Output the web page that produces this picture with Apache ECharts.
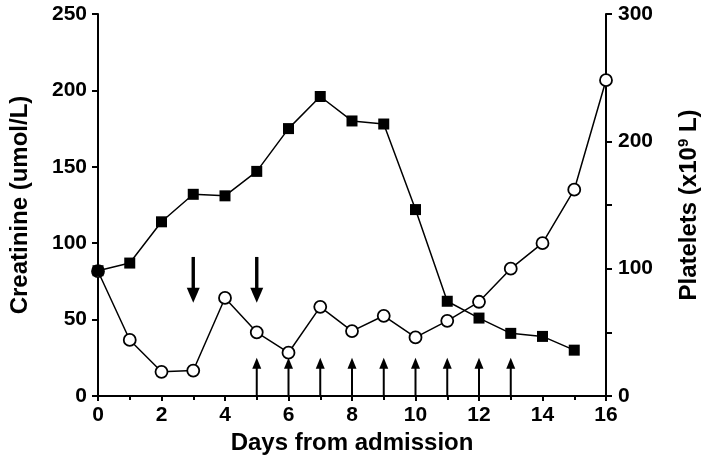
<!DOCTYPE html>
<html>
<head>
<meta charset="utf-8">
<script src="https://cdn.jsdelivr.net/npm/echarts@6/dist/echarts.min.js"></script>
<style>html,body{margin:0;padding:0;background:#fff}#c{width:709px;height:474px}</style>
</head>
<body>
<div id="c"></div>
<script>
// Days from admission
var days = [0,1,2,3,4,5,6,7,8,9,10,11,12,13,14,15,16];
// Creatinine (umol/L), left axis, filled squares (days 0-15)
var creatinine = [82,87,114,132,131,147,175,196,180,178,122,62,51,41,39,30];
// Platelets (x10^9 L), right axis, open circles (days 0-16)
var platelets = [98,44,19,20,77,50,34,70,51,63,46,59,74,100,120,162,248];
// Thick down arrows (left-axis scale)
var downArrowDays = [3,5];
var downArrowFrom = 91, downArrowTo = 61;
// Thin up arrows (left-axis scale)
var upArrowDays = [5,6,7,8,9,10,11,12,13];
var upArrowFrom = 0, upArrowTo = 25;
// Tick settings
var leftTicks = {min:0,max:250,interval:50};
var rightTicks = {min:0,max:300,interval:100};
var xTicks = {min:0,max:16,interval:2};

var FONT = '"Liberation Sans", Arial, sans-serif';
var chart = echarts.init(document.getElementById('c'), null, {renderer:'canvas'});

function arrowItem(thick){
  return function(params, api){
    var p0 = api.coord([api.value(0), api.value(1)]);
    var p1 = api.coord([api.value(0), api.value(2)]);
    var dir = p1[1] > p0[1] ? 1 : -1; // +1 pointing down
    var headLen = thick ? 15 : 11;
    var headW = thick ? 6.5 : 4.5;
    var shaftW = thick ? 3.4 : 2;
    var tipY = p1[1];
    var baseY = tipY - dir*headLen;
    return {
      type:'group',
      children:[
        {type:'line', shape:{x1:p0[0],y1:p0[1],x2:p0[0],y2:baseY+dir*1}, style:{stroke:'#000',lineWidth:shaftW}},
        {type:'polygon', shape:{points:[[p0[0]-headW,baseY],[p0[0]+headW,baseY],[p0[0],tipY]]}, style:{fill:'#000'}}
      ]
    };
  };
}

var downData = downArrowDays.map(function(d){return [d,downArrowFrom,downArrowTo];});
var upData = upArrowDays.map(function(d){return [d,upArrowFrom,upArrowTo];});

var axisLabelStyle = {color:'#000', fontFamily:FONT, fontWeight:'bold', fontSize:21};
var nameStyle = {color:'#000', fontFamily:FONT, fontWeight:'bold', fontSize:24};

chart.setOption({
  animation:false,
  backgroundColor:'#fff',
  grid:{left:91,right:98,top:14,bottom:78},
  xAxis:{
    type:'value', min:xTicks.min, max:xTicks.max, interval:xTicks.interval,
    name:'Days from admission', nameLocation:'middle', nameGap:30, nameTextStyle:nameStyle,
    axisLine:{show:true,onZero:false,lineStyle:{color:'#000',width:2}},
    axisTick:{show:true,inside:false,length:5,lineStyle:{color:'#000',width:2}},
    minorTick:{show:true,splitNumber:2,length:4,lineStyle:{color:'#000',width:2}},
    axisLabel:Object.assign({margin:9},axisLabelStyle),
    splitLine:{show:false}
  },
  yAxis:[{
    type:'value', position:'left', min:leftTicks.min, max:leftTicks.max, interval:leftTicks.interval,
    name:'Creatinine (umol/L)', nameLocation:'middle', nameGap:66, nameRotate:90, nameTextStyle:nameStyle,
    axisLine:{show:true,onZero:false,lineStyle:{color:'#000',width:2}},
    axisTick:{show:true,length:6,lineStyle:{color:'#000',width:2}},
    axisLabel:Object.assign({margin:11},axisLabelStyle),
    splitLine:{show:false}
  },{
    type:'value', position:'right', min:rightTicks.min, max:rightTicks.max, interval:rightTicks.interval,
    name:'Platelets (x10{sup|9} L)', nameLocation:'middle', nameGap:70, nameRotate:90,
    nameTextStyle:Object.assign({rich:{sup:{fontFamily:FONT,fontWeight:'bold',fontSize:15,color:'#000',verticalAlign:'top',padding:[0,0,11,0]}}},nameStyle),
    axisLine:{show:true,onZero:false,lineStyle:{color:'#000',width:2}},
    axisTick:{show:true,length:6,lineStyle:{color:'#000',width:2}},
    minorTick:{show:true,splitNumber:2,length:6,lineStyle:{color:'#000',width:2}},
    axisLabel:Object.assign({margin:12},axisLabelStyle),
    splitLine:{show:false}
  }],
  series:[
    {type:'custom', renderItem:arrowItem(true), data:downData, yAxisIndex:0, z:1, silent:true},
    {type:'custom', renderItem:arrowItem(false), data:upData, yAxisIndex:0, z:1, silent:true},
    {type:'line', yAxisIndex:1, data:days.map(function(d,i){return [d,platelets[i]];}),
     symbol:'circle', symbolSize:12, lineStyle:{color:'#000',width:1.5},
     itemStyle:{color:'#fff',borderColor:'#000',borderWidth:1.8}, z:3},
    {type:'line', yAxisIndex:0, data:creatinine.map(function(v,i){return [days[i],v];}),
     symbol:'rect', symbolSize:11, lineStyle:{color:'#000',width:1.5},
     itemStyle:{color:'#000',borderColor:'#000',borderWidth:0}, z:4}
  ]
});
</script>
</body>
</html>
